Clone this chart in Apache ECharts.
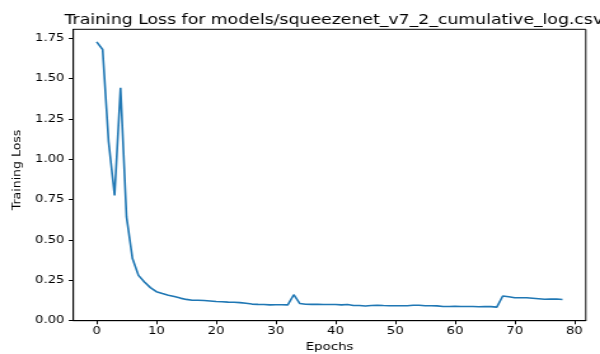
<!DOCTYPE html>
<html>
<head>
<meta charset="utf-8">
<script src="https://cdn.jsdelivr.net/npm/echarts@6/dist/echarts.min.js"></script>
<style>
  html, body { margin: 0; padding: 0; background: #fff; overflow: hidden; }
  #wrap { width: 600px; height: 354px; overflow: hidden; }
  #chart { width: 472px; height: 354px; transform: scaleX(1.2712); transform-origin: 0 0; }
</style>
</head>
<body>
<div id="wrap"><div id="chart"></div></div>
<script>
// Per-epoch training loss
const epochs = [];
for (let i = 0; i <= 78; i++) epochs.push(i);
const trainingLoss = [
  1.728, 1.681, 1.110, 0.776, 1.443, 0.643, 0.385, 0.281, 0.240, 0.205,
  0.180, 0.168, 0.158, 0.150, 0.140, 0.132, 0.127, 0.127, 0.125, 0.122,
  0.119, 0.117, 0.115, 0.114, 0.112, 0.108, 0.103, 0.101, 0.100, 0.098,
  0.099, 0.099, 0.098, 0.161, 0.107, 0.102, 0.101, 0.102, 0.100, 0.100,
  0.100, 0.098, 0.100, 0.094, 0.094, 0.091, 0.094, 0.096, 0.094, 0.093,
  0.093, 0.093, 0.093, 0.096, 0.096, 0.093, 0.093, 0.092, 0.088, 0.088,
  0.089, 0.088, 0.088, 0.088, 0.086, 0.087, 0.087, 0.084, 0.153, 0.148,
  0.142, 0.142, 0.142, 0.139, 0.136, 0.133, 0.134, 0.134, 0.131
];
const xTicks = [0, 10, 20, 30, 40, 50, 60, 70, 80];
const yTicks = [0, 0.25, 0.5, 0.75, 1.0, 1.25, 1.5, 1.75];

const font = 'DejaVu Sans';
const chart = echarts.init(document.getElementById('chart'), null, { renderer: 'canvas' });
chart.setOption({
  animation: false,
  backgroundColor: '#ffffff',
  title: {
    text: 'Training Loss for models/squeezenet_v7_2_cumulative_log.csv',
    left: 257.6,
    textAlign: 'center',
    top: 8,
    textStyle: { fontFamily: font, fontSize: 13.6, fontWeight: 'normal', color: '#000' }
  },
  // vertical axis title, narrowed across its glyph height
  graphic: [{
    type: 'text',
    x: 13.8,
    y: 170,
    rotation: Math.PI / 2,
    scaleY: 0.74,
    style: {
      text: 'Training Loss',
      fontFamily: font,
      fontSize: 12.5,
      fill: '#000',
      align: 'center',
      verticalAlign: 'middle'
    }
  }],
  grid: {
    left: 57.7, right: 11.2, top: 29.3, bottom: 33.3,
    outerBoundsMode: 'none',
    show: true, borderColor: '#000', borderWidth: 1, backgroundColor: 'transparent'
  },
  xAxis: {
    type: 'value',
    min: -3.9, max: 81.9,
    name: 'Epochs',
    nameLocation: 'middle',
    nameGap: 21,
    nameTextStyle: { fontFamily: font, fontSize: 10.5, color: '#000' },
    axisLine: { show: true, onZero: false, lineStyle: { color: '#000', width: 1 } },
    axisTick: { show: true, length: 3.6, customValues: xTicks, lineStyle: { color: '#000', width: 1 } },
    axisLabel: { customValues: xTicks, margin: 6, fontFamily: font, fontSize: 10.4, color: '#000' },
    splitLine: { show: false }
  },
  yAxis: {
    type: 'value',
    min: 0, max: 1.806,
    axisLine: { show: true, onZero: false, lineStyle: { color: '#000', width: 1 } },
    axisTick: { show: true, length: 3.6, customValues: yTicks, lineStyle: { color: '#000', width: 1 } },
    axisLabel: {
      customValues: yTicks, margin: 7, fontFamily: font, fontSize: 10.4, color: '#000',
      formatter: v => v.toFixed(2)
    },
    splitLine: { show: false }
  },
  series: [{
    type: 'line',
    data: epochs.map((e, i) => [e, trainingLoss[i]]),
    showSymbol: false,
    lineStyle: { color: '#1f77b4', width: 1.6 },
    itemStyle: { color: '#1f77b4' }
  }]
});
</script>
</body>
</html>
